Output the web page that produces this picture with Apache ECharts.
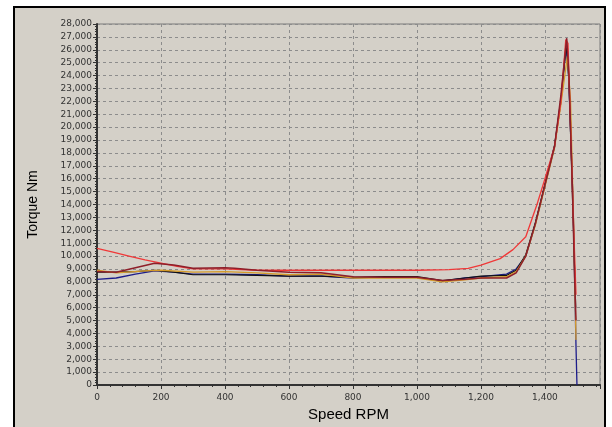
<!DOCTYPE html>
<html><head><meta charset="utf-8">
<script src="https://cdn.jsdelivr.net/npm/echarts@6/dist/echarts.min.js"></script>
<style>
html,body{margin:0;padding:0;background:#fff;width:612px;height:427px;overflow:hidden}
#frame{position:absolute;left:13px;top:6px;width:589px;height:430px;border:2px solid #000;background:#d4d0c8}
#c{position:absolute;left:0;top:0;width:612px;height:427px}
</style></head><body>
<div id="frame"></div>
<div id="c"></div>
<script>
const xTicks = [0,200,400,600,800,1000,1200,1400];
const yTicks = [0,1000,2000,3000,4000,5000,6000,7000,8000,9000,10000,11000,12000,13000,14000,15000,16000,17000,18000,19000,20000,21000,22000,23000,24000,25000,26000,27000,28000];

const navy = [[0,8200],[60,8300],[120,8600],[180,8850],[240,8750],[300,8600],[400,8600],[500,8550],[600,8450],[700,8450],[800,8300],[900,8400],[1000,8350],[1080,8050],[1150,8300],[1200,8400],[1280,8600],[1310,9000],[1340,10000],[1370,12500],[1400,15500],[1430,18500],[1450,22000],[1466,26300],[1474,24000],[1488,14000],[1497,3000],[1500,0]];
const black = [[0,8750],[60,8750],[120,8800],[180,8900],[240,8750],[300,8550],[400,8550],[500,8500],[600,8450],[700,8450],[800,8350],[900,8400],[1000,8400],[1080,8100],[1150,8300],[1200,8450],[1280,8500],[1310,8900],[1340,10100],[1370,12600],[1400,15600],[1430,18600],[1450,22200],[1467,26500],[1475,23500],[1488,13000],[1496,6000]];
const orange = [[0,8900],[60,8700],[150,8850],[200,8900],[300,8750],[400,8800],[500,8700],[600,8550],[700,8600],[800,8300],[900,8300],[1000,8300],[1080,8000],[1150,8150],[1200,8300],[1280,8400],[1310,8800],[1340,10000],[1370,12400],[1400,15400],[1430,18400],[1450,21800],[1470,25500],[1480,22000],[1490,12000],[1497,3500]];
const darkred = [[0,8800],[60,8750],[120,9100],[180,9450],[240,9300],[300,9050],[400,9100],[430,9050],[500,8900],[600,8750],[700,8700],[800,8400],[900,8350],[1000,8350],[1080,8100],[1150,8200],[1200,8300],[1280,8300],[1310,8700],[1340,10000],[1370,12500],[1400,15500],[1430,18500],[1450,22500],[1468,26900],[1475,24000],[1485,16000],[1493,8000],[1497,5000]];
const red = [[0,10600],[50,10300],[100,10000],[150,9700],[200,9450],[250,9200],[300,9000],[400,9000],[500,8900],[600,8900],[800,8900],[1000,8900],[1100,8950],[1160,9050],[1200,9300],[1260,9800],[1300,10500],[1340,11500],[1375,14000],[1400,16000],[1430,18500],[1450,22000],[1465,26800],[1472,26500],[1480,20000],[1490,12000],[1497,7000]];

const fmt = v => v.toLocaleString('en-US');
const chart = echarts.init(document.getElementById('c'), null, {renderer:'canvas'});
function ser(name, data, color, w){
  return {name, type:'line', data, showSymbol:false, symbol:'none', lineStyle:{color, width:w}, animation:false};
}
chart.setOption({
  backgroundColor:'transparent',
  animation:false,
  grid:{left:97, top:24, right:12, bottom:42, show:true, backgroundColor:'#d4d0c8', borderColor:'#7a7a7a', borderWidth:1},
  xAxis:{type:'value', min:0, max:1572, interval:200,
    name:'Speed RPM', nameLocation:'middle', nameGap:15,
    nameTextStyle:{fontFamily:'Liberation Sans', fontSize:15, color:'#000'},
    axisLine:{show:true, lineStyle:{color:'#333', width:2}},
    axisTick:{show:true, length:4, inside:false, lineStyle:{color:'#333'}},
    minorTick:{show:true, splitNumber:5, length:2, lineStyle:{color:'#333'}},
    axisLabel:{formatter: v => xTicks.includes(v) ? fmt(v) : '', fontFamily:'DejaVu Sans', fontSize:9, color:'#333', margin:8},
    splitLine:{show:true, lineStyle:{color:'#8c8c8c', type:[3,3], width:1}}
  },
  yAxis:{type:'value', min:0, max:28000, interval:1000,
    name:'Torque Nm', nameLocation:'middle', nameGap:57, nameRotate:90,
    nameTextStyle:{fontFamily:'Liberation Sans', fontSize:14, color:'#000'},
    axisLine:{show:true, lineStyle:{color:'#333', width:2}},
    axisTick:{show:true, length:4, lineStyle:{color:'#333'}},
    minorTick:{show:true, splitNumber:5, length:2, lineStyle:{color:'#333'}},
    axisLabel:{formatter: v => yTicks.includes(v) ? fmt(v) : '', fontFamily:'DejaVu Sans', fontSize:9, color:'#333', margin:5},
    splitLine:{show:true, lineStyle:{color:'#8c8c8c', type:[3,3], width:1}}
  },
  series:[
    ser('navy', navy, '#1c1c8a', 1.3),
    ser('black', black, '#111', 1.2),
    ser('orange', orange, '#d49a2a', 1.3),
    ser('red', red, '#f03838', 1.3),
    ser('darkred', darkred, '#8e1f2a', 1.5)
  ]
});
</script>
</body></html>
